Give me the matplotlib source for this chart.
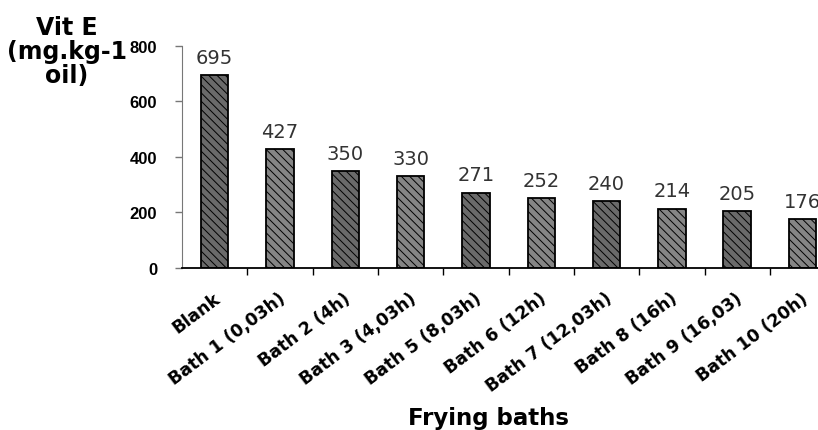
"""Vitamin E content across frying baths (bar chart)."""

import matplotlib
matplotlib.use("Agg")
import matplotlib.pyplot as plt
import matplotlib.transforms as mtransforms

categories = [
    "Blank", "Bath 1 (0,03h)", "Bath 2 (4h)", "Bath 3 (4,03h)",
    "Bath 5 (8,03h)", "Bath 6 (12h)", "Bath 7 (12,03h)", "Bath 8 (16h)",
    "Bath 9 (16,03)", "Bath 10 (20h)",
]
vit_e = [695, 427, 350, 330, 271, 252, 240, 214, 205, 176]
y_ticks = [0, 200, 400, 600, 800]

plt.rcParams["font.family"] = ["DejaVu Sans"]
plt.rcParams["hatch.color"] = "#3c3c3c"
plt.rcParams["hatch.linewidth"] = 0.7

fig = plt.figure(figsize=(8.18, 4.31), dpi=100)
# plot area runs past the right edge, as in the original scan
ax = fig.add_axes([0.2225, 0.376, 0.7985, 0.515])

x = list(range(len(categories)))
face = ["#6a6a6a" if i % 2 == 0 else "#858585" for i in x]
ax.bar(x, vit_e, width=0.42, color=face, edgecolor="black",
       linewidth=1.3, hatch="\\\\\\\\", zorder=2)

for xi, v in zip(x, vit_e):
    ax.annotate(str(v), (xi, v), xytext=(0, 6), textcoords="offset points",
                ha="center", va="bottom", fontsize=14, color="#333333")

ax.set_xlim(-0.5, len(categories) - 0.5)
ax.set_ylim(0, 800)
ax.set_yticks(y_ticks)
ax.set_yticklabels([str(t) for t in y_ticks], fontsize=12,
                   fontweight="bold", family="Liberation Sans")

ax.set_xticks([i + 0.5 for i in x[:-1]])
ax.set_xticklabels([])
ax.tick_params(axis="x", length=5, width=1, direction="out", color="black")
ax.tick_params(axis="y", length=5, width=1, direction="out",
               color="#777777", pad=13)

# category labels slanted (the scan is stretched sideways), anchored under each bar
offset = mtransforms.ScaledTranslation(-2 / 100, -21 / 100, fig.dpi_scale_trans)
for xi, lab in zip(x, categories):
    ax.text(xi, 0, lab, transform=ax.get_xaxis_transform() + offset,
            rotation=37, rotation_mode="anchor", ha="right", va="top",
            fontsize=12.5, fontweight="bold")

for side in ["top", "right"]:
    ax.spines[side].set_visible(False)
ax.spines["left"].set_color("#777777")
ax.spines["bottom"].set_color("black")
ax.spines["bottom"].set_linewidth(1.3)

fig.text(67 / 818, 1 - 16 / 431, "Vit E\n(mg.kg-1\noil)", ha="center",
         va="top", fontsize=17, fontweight="bold", linespacing=1.0)
fig.text(489 / 818, 1 - 419 / 431, "Frying baths", ha="center", va="center",
         fontsize=16.5, fontweight="bold")

fig.savefig("out.png", dpi=100)
